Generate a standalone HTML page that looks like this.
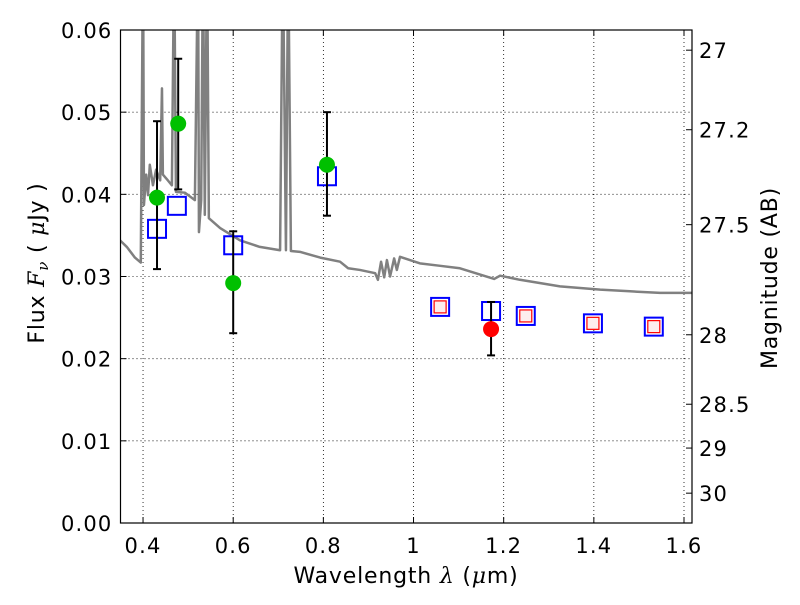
<!DOCTYPE html>
<html><head><meta charset="utf-8"><style>
body{margin:0;background:#fff}
svg text{font-family:"DejaVu Sans","Liberation Sans",sans-serif;fill:#000}
</style></head><body>
<svg id="chart" width="800" height="600" xmlns="http://www.w3.org/2000/svg"></svg>
<script>
const specLam=[0.349,0.364,0.382,0.395,0.400,0.402,0.407,0.411,0.415,0.422,0.429,0.438,0.442,0.444,0.455,0.464,0.469,0.473,0.493,0.515,0.522,0.524,0.529,0.533,0.537,0.542,0.546,0.571,0.615,0.659,0.704,0.710,0.717,0.722,0.728,0.748,0.793,0.837,0.855,0.881,0.915,0.921,0.928,0.935,0.941,0.948,0.957,0.963,0.970,1.014,1.059,1.103,1.179,1.192,1.236,1.325,1.414,1.480,1.547,1.618];
const specFlux=[0.0344,0.0336,0.0323,0.0317,0.07,0.0387,0.0424,0.0399,0.0436,0.0411,0.0430,0.0417,0.0529,0.0424,0.0417,0.0411,0.07,0.0403,0.0402,0.0393,0.07,0.0354,0.0393,0.07,0.0375,0.07,0.0371,0.0359,0.0344,0.0336,0.0332,0.07,0.0332,0.07,0.0331,0.0330,0.0323,0.0318,0.0310,0.0308,0.0304,0.0296,0.0318,0.0299,0.0320,0.0300,0.0322,0.0308,0.0324,0.0316,0.0313,0.0310,0.0297,0.0301,0.0296,0.0288,0.0284,0.0282,0.0280,0.0280];
const obsLam=[0.431,0.478,0.600,0.808];
const obsFlux=[0.0396,0.0486,0.0292,0.0436];
const obsLo=[0.0309,0.0406,0.0231,0.0374];
const obsHi=[0.0489,0.0565,0.0355,0.0500];
const nirLam=[1.172];
const nirFlux=[0.0236];
const nirLo=[0.0204];
const nirHi=[0.0269];
const modLam=[0.431,0.475,0.600,0.808,1.059,1.172,1.249,1.398,1.533];
const modFlux=[0.0358,0.0386,0.0338,0.0422,0.0263,0.0258,0.0252,0.0243,0.0239];
const modRed=[false,false,false,false,true,false,true,true,true];
const xTicks=[0.4,0.6,0.8,1.0,1.2,1.4,1.6];
const xTickLabels=["0.4","0.6","0.8","1","1.2","1.4","1.6"];
const yTicks=[0,0.01,0.02,0.03,0.04,0.05,0.06];
const yTickLabels=["0.00","0.01","0.02","0.03","0.04","0.05","0.06"];
const magTicks=[27,27.2,27.5,28,28.5,29,30];
const magLabels=["27","27.2","27.5","28","28.5","29","30"];

const L=120.5,R=692,T=30,B=523;
const X0=0.35;
const FS=21,LS=1.2;
const sx=v=>L+(v-X0)*450.8;
const sy=v=>B-v*(B-T)/0.06;
const svg=document.getElementById('chart');
const NS='http://www.w3.org/2000/svg';
function mk(tag,attrs,parent){const e=document.createElementNS(NS,tag);for(const k in attrs)e.setAttribute(k,attrs[k]);(parent||svg).appendChild(e);return e;}
const defs=mk('defs',{});
const cp=mk('clipPath',{id:'clip'},defs);
mk('rect',{x:L,y:T,width:R-L,height:B-T},cp);

xTicks.forEach((t,i)=>{
 const g=mk('line',{x1:sx(t),x2:sx(t),y1:T,y2:B,stroke:'#000','stroke-width':0.8,'stroke-dasharray':'1,3'});
 
 
 mk('line',{x1:sx(t),x2:sx(t),y1:B,y2:B-6,stroke:'#000'});
 mk('line',{x1:sx(t),x2:sx(t),y1:T,y2:T+6,stroke:'#000'});
 const tx=mk('text',{x:sx(t),y:B+30,'font-size':FS,'letter-spacing':LS,'text-anchor':'middle'});tx.textContent=xTickLabels[i];
 
 
});
yTicks.forEach((t,i)=>{
 const g=mk('line',{x1:L,x2:R,y1:sy(t),y2:sy(t),stroke:'#000','stroke-width':0.8,'stroke-dasharray':'1,3'});
 
 
 mk('line',{x1:L,x2:L+6,y1:sy(t),y2:sy(t),stroke:'#000'});
 const tx=mk('text',{x:L-8,y:sy(t)+8,'font-size':FS,'letter-spacing':LS,'text-anchor':'end'});tx.textContent=yTickLabels[i];
 
 
});
magTicks.forEach((m,i)=>{
 const f=Math.pow(10,(23.9-m)/2.5);const y=sy(f);
 mk('line',{x1:R,x2:R-6,y1:y,y2:y,stroke:'#000'});
 const tx=mk('text',{x:R+7,y:y+8,'font-size':FS,'letter-spacing':LS});tx.textContent=magLabels[i];
 
 
});

const g=mk('g',{'clip-path':'url(#clip)'});
const sp=mk('polyline',{points:specLam.map((l,i)=>sx(l)+','+sy(specFlux[i])).join(' '),fill:'none',stroke:'#808080','stroke-width':2.5,'stroke-linejoin':'round'},g);



function errbar(l,lo,hi){
 const x=sx(l);
 mk('line',{x1:x,x2:x,y1:sy(lo),y2:sy(hi),stroke:'#000','stroke-width':2},g);
 mk('line',{x1:x-4,x2:x+4,y1:sy(lo),y2:sy(lo),stroke:'#000','stroke-width':2},g);
 mk('line',{x1:x-4,x2:x+4,y1:sy(hi),y2:sy(hi),stroke:'#000','stroke-width':2},g);
}
modLam.forEach((l,i)=>{
 const s=mk('rect',{x:sx(l)-9,y:sy(modFlux[i])-9,width:18,height:18,fill:'none',stroke:'#0000ff','stroke-width':2},g);
 
 
 if(modRed[i]){
  const r=mk('rect',{x:sx(l)-6,y:sy(modFlux[i])-6,width:12,height:12,fill:'#fdeeee',stroke:'#ff0000','stroke-width':1.2},g);
  
  
 }
});
obsLam.forEach((l,i)=>{
 errbar(l,obsLo[i],obsHi[i]);
 const c=mk('circle',{cx:sx(l),cy:sy(obsFlux[i]),r:8,fill:'#00c000'},g);
 
 
});
nirLam.forEach((l,i)=>{
 errbar(l,nirLo[i],nirHi[i]);
 const c=mk('circle',{cx:sx(l),cy:sy(nirFlux[i]),r:8,fill:'#ff0000'},g);
 
 
});

const fr=mk('rect',{x:L,y:T,width:R-L,height:B-T,fill:'none',stroke:'#000','stroke-width':1.2});


</script>
<svg style="position:absolute;left:0;top:0" width="800" height="600" xmlns="http://www.w3.org/2000/svg">
<text x="406" y="583" font-size="22" letter-spacing="0.8" text-anchor="middle">Wavelength  <tspan font-style="italic" font-family="DejaVu Serif,serif">λ</tspan> (<tspan font-style="italic" font-family="DejaVu Serif,serif">μ</tspan>m)</text>
<text transform="translate(44,263) rotate(-90)" font-size="22" letter-spacing="0.8" text-anchor="middle">Flux  <tspan font-style="italic" font-family="DejaVu Serif,serif">F</tspan><tspan font-style="italic" font-family="DejaVu Serif,serif" font-size="15" dy="4">ν</tspan><tspan dy="-4">  (  </tspan><tspan font-style="italic" font-family="DejaVu Serif,serif">μ</tspan>Jy )</text>
<text transform="translate(777,278) rotate(-90)" font-size="22" letter-spacing="0.8" text-anchor="middle">Magnitude (AB)</text>
</svg>
</body></html>
